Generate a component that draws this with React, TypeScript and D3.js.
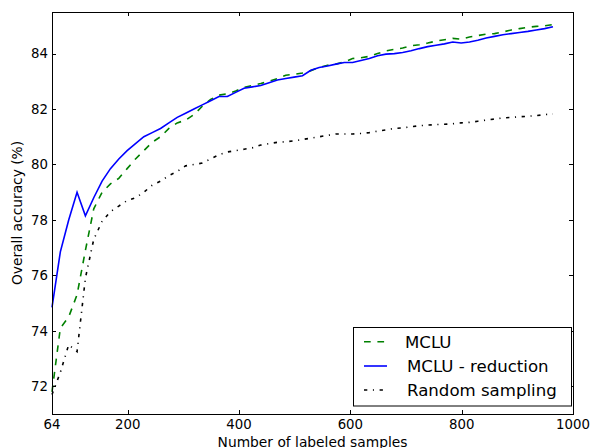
import React from "react";
import * as d3 from "d3";

// sample counts: 64, 79, 94, ... 964
const samples: number[] = d3.range(61).map(k => 64 + 15 * k);

const mcluReduction: number[] = [
  74.85, 76.85, 78.0, 79.0, 78.15, 78.8, 79.4, 79.85, 80.2, 80.5,
  80.75, 81.0, 81.15, 81.3, 81.5, 81.7, 81.85, 82.0, 82.15, 82.3,
  82.45, 82.45, 82.6, 82.75, 82.8, 82.85, 82.95, 83.05, 83.1, 83.15,
  83.2, 83.4, 83.5, 83.55, 83.62, 83.68, 83.68, 83.75, 83.82, 83.92,
  83.98, 84.0, 84.04, 84.1, 84.18, 84.25, 84.3, 84.35, 84.42, 84.38,
  84.42, 84.48, 84.56, 84.62, 84.68, 84.72, 84.76, 84.8, 84.85, 84.9,
  84.97,
];

const mclu: number[] = [
  71.8, 74.1, 74.5, 75.3, 76.9, 78.4, 79.0, 79.3, 79.5, 79.85,
  80.2, 80.5, 80.8, 81.0, 81.3, 81.5, 81.6, 81.8, 82.1, 82.35,
  82.5, 82.55, 82.65, 82.78, 82.85, 82.92, 83.0, 83.1, 83.22, 83.25,
  83.3, 83.38, 83.5, 83.58, 83.62, 83.7, 83.82, 83.85, 83.9, 84.0,
  84.1, 84.15, 84.2, 84.28, 84.32, 84.38, 84.45, 84.5, 84.55, 84.52,
  84.6, 84.65, 84.7, 84.72, 84.78, 84.85, 84.9, 84.95, 84.98, 85.0,
  85.05,
];

const randomSampling: number[] = [
  71.7, 72.5, 73.5, 73.25, 75.9, 77.3, 77.95, 78.3, 78.5, 78.7,
  78.8, 79.0, 79.25, 79.4, 79.6, 79.75, 79.95, 80.0, 80.05, 80.2,
  80.35, 80.45, 80.5, 80.55, 80.6, 80.7, 80.75, 80.8, 80.82, 80.85,
  80.9, 80.95, 81.0, 81.05, 81.1, 81.1, 81.1, 81.12, 81.15, 81.2,
  81.25, 81.3, 81.32, 81.36, 81.4, 81.42, 81.44, 81.45, 81.47, 81.5,
  81.52, 81.56, 81.6, 81.64, 81.68, 81.7, 81.72, 81.74, 81.76, 81.8,
  81.82,
];

const xTicks: number[] = [64, 200, 400, 600, 800, 1000];
const yTicks: number[] = [72, 74, 76, 78, 80, 82, 84];

const series = [
  { name: "MCLU", values: mclu, color: "#008000", dash: "6.7,6.7" },
  { name: "MCLU - reduction", values: mcluReduction, color: "#0000ff", dash: "" },
  { name: "Random sampling", values: randomSampling, color: "#000000", dash: "3.3,5.6,1.1,5.6" },
];

export default function App() {
  const width = 590, height = 448;
  const left = 52, right = 573, top = 12, bottom = 414;
  const font = "'DejaVu Sans', 'Bitstream Vera Sans', sans-serif";

  const x = d3.scaleLinear().domain([64, 1000]).range([left, right]);
  const y = d3.scaleLinear().domain([71, 85.5]).range([bottom, top]);

  const line = (vals: number[]) =>
    d3.line<number>()
      .x((_, i) => x(samples[i]))
      .y(d => y(d))(vals) || "";

  // legend layout
  const lg = { x: 353.5, y: 327.5, w: 218, h: 78.5 };
  const rowY = [341.7, 366, 390];

  return (
    <svg width={width} height={height}
      style={{ position: "absolute", left: 0, top: 0, background: "#fff" }}
      fontFamily={font}>
      <rect x={0} y={0} width={width} height={height} fill="#fff" />

      {series.map(s => (
        <path key={s.name} d={line(s.values)} fill="none" stroke={s.color}
          strokeWidth={1.6} strokeDasharray={s.dash || undefined} />
      ))}

      {/* frame */}
      <rect x={left + 0.5} y={top + 0.5} width={right - left} height={bottom - top}
        fill="none" stroke="#000" strokeWidth={1} />

      {/* ticks */}
      {xTicks.map(t => (
        <g key={"x" + t}>
          <line x1={Math.round(x(t)) + 0.5} x2={Math.round(x(t)) + 0.5} y1={bottom} y2={bottom - 4} stroke="#000" />
          <line x1={Math.round(x(t)) + 0.5} x2={Math.round(x(t)) + 0.5} y1={top} y2={top + 4} stroke="#000" />
          <text x={x(t)} y={429} fontSize={13.3} textAnchor="middle" fill="#000">{t}</text>
        </g>
      ))}
      {yTicks.map(t => (
        <g key={"y" + t}>
          <line x1={left} x2={left + 4} y1={Math.round(y(t)) + 0.5} y2={Math.round(y(t)) + 0.5} stroke="#000" />
          <line x1={right} x2={right - 4} y1={Math.round(y(t)) + 0.5} y2={Math.round(y(t)) + 0.5} stroke="#000" />
          <text x={48} y={y(t)} dy="0.36em" fontSize={13.3} textAnchor="end" fill="#000">{t}</text>
        </g>
      ))}

      {/* axis labels */}
      <text x={(left + right) / 2} y={447} fontSize={13.8} textAnchor="middle" fill="#000">
        Number of labeled samples
      </text>
      <text transform={`translate(22,${(top + bottom) / 2}) rotate(-90)`} fontSize={13.8}
        textAnchor="middle" fill="#000">
        Overall accuracy (%)
      </text>

      {/* legend */}
      <rect x={lg.x} y={lg.y} width={lg.w} height={lg.h} fill="#fff" stroke="#000" strokeWidth={1} />
      {series.map((s, i) => (
        <g key={"lg" + s.name}>
          <line x1={364} x2={387} y1={rowY[i]} y2={rowY[i]} stroke={s.color} strokeWidth={1.6}
            strokeDasharray={s.dash || undefined} />
          <text x={i === 0 ? 405 : 407} y={rowY[i]} dy="0.36em" fontSize={16.6} fill="#000">{s.name}</text>
        </g>
      ))}
    </svg>
  );
}
